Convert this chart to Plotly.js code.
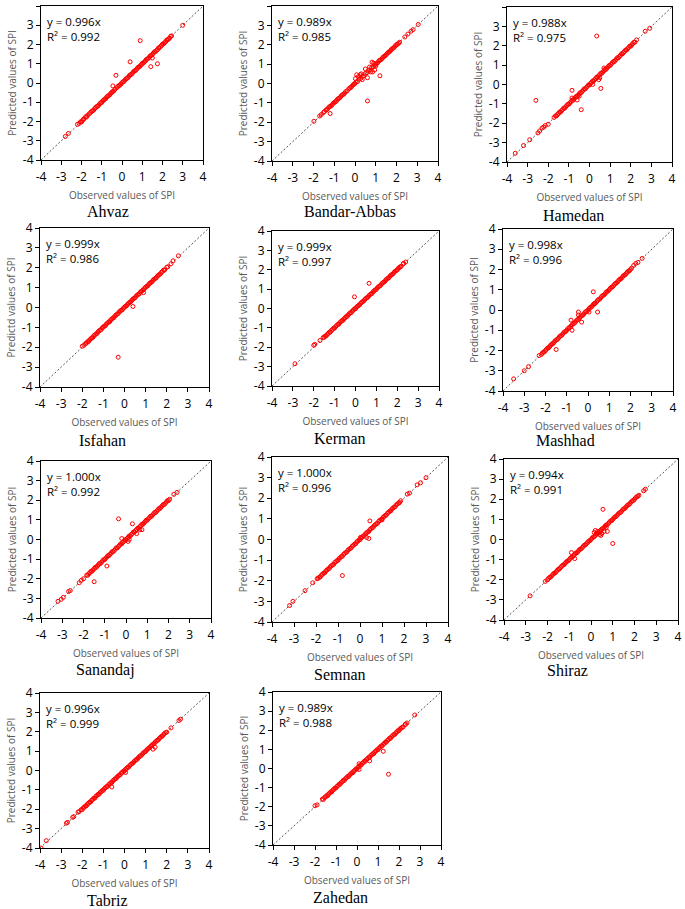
<!DOCTYPE html>
<html>
<head>
<meta charset="utf-8">
<script src="https://cdn.plot.ly/plotly-3.0.1.min.js"></script>
<style>html,body{margin:0;padding:0;background:#fff}#chart{width:685px;height:909px}</style>
</head>
<body>
<div id="chart"></div>
<script>
// ---------- DATA ----------
const CITIES = ["Ahvaz","Bandar-Abbas","Hamedan","Isfahan","Kerman","Mashhad","Sanandaj","Semnan","Shiraz","Tabriz","Zahedan"];
const EQUATIONS = ["y = 0.996x","y = 0.989x","y = 0.988x","y = 0.999x","y = 0.999x","y = 0.998x","y = 1.000x","y = 1.000x","y = 0.994x","y = 0.996x","y = 0.989x"];
const R2 = ["R² = 0.992","R² = 0.985","R² = 0.975","R² = 0.986","R² = 0.997","R² = 0.996","R² = 0.992","R² = 0.996","R² = 0.991","R² = 0.999","R² = 0.988"];
const Y_TITLES = ["Predicted values of SPI","Predicted values of SPI","Predicted values of SPI","Predictd values of SPI","Predicted values of SPI","Predicted values of SPI","Predicted values of SPI","Predicted values of SPI","Predicted values of SPI","Predicted values of SPI","Predicted values of SPI"];
const X_TITLE = "Observed values of SPI";
const TICK_VALS = [-4,-3,-2,-1,0,1,2,3,4];
const TICK_LABELS = ["-4","-3","-2","-1","0","1","2","3","4"];
const DIAG = [-4, 4];

const OBS_AHVAZ = [-2.8,-2.65,-2.2,-2.12,-2.05,-1.95,-1.88,-1.8,-1.7,-1.62,
 -1.55,-1.45,-1.35,-1.25,-1.15,-1.05,-0.95,-0.85,-0.75,-0.65,
 -0.55,-0.45,-0.35,-0.25,-0.15,-0.05,0.05,0.15,0.25,0.35,
 0.45,0.55,0.65,0.75,0.85,0.95,1.05,1.15,1.25,1.35,
 1.45,1.55,1.65,1.75,1.85,1.95,2.05,2.15,2.25,2.35,
 2.45,3.0,0.9,0.4,-0.3,-0.45,1.42,1.75,1.5,
 -2.0,-1.9,-1.75,-1.5,-1.4,-1.3,-1.2,-1.1,-1.0,-0.9,
 -0.8,-0.7,-0.6,-0.5,-0.4,-0.2,-0.1,0.0,0.1,0.2,
 0.3,0.4,0.5,0.6,0.7,0.8,0.9,1.0,1.1,1.2,
 1.3,1.4,1.5,1.6,1.7,1.8,1.9,2.0,2.1,2.2,
 2.3,2.4];
const PRED_AHVAZ = [-2.78,-2.62,-2.15,-2.1,-2.02,-1.95,-1.86,-1.76,-1.68,-1.6,
 -1.53,-1.44,-1.33,-1.22,-1.15,-1.03,-0.93,-0.84,-0.72,-0.65,
 -0.53,-0.44,-0.33,-0.24,-0.13,-0.05,0.06,0.16,0.24,0.36,
 0.44,0.56,0.64,0.76,0.84,0.95,1.03,1.14,1.24,1.34,
 1.43,1.55,1.63,1.73,1.83,1.95,2.03,2.14,2.24,2.33,
 2.45,3.0,2.2,1.1,0.4,-0.15,0.85,1.0,1.3,
 -2.02,-1.88,-1.77,-1.48,-1.41,-1.28,-1.21,-1.08,-1.01,-0.88,
 -0.81,-0.68,-0.61,-0.48,-0.41,-0.18,-0.11,0.02,0.09,0.22,
 0.29,0.42,0.49,0.62,0.69,0.82,0.89,1.02,1.09,1.22,
 1.29,1.42,1.49,1.62,1.69,1.82,1.89,2.02,2.09,2.22,
 2.29,2.42];

const OBS_BANDAR = [-1.98,-1.7,-1.62,-1.48,-1.4,-1.32,-1.25,-1.15,-1.05,-0.95,
 -0.85,-0.75,-0.65,-0.55,-0.45,-0.38,-0.3,-0.2,-0.1,0.0,
 0.05,0.12,0.2,0.28,0.35,0.42,0.5,0.58,0.65,0.72,
 0.8,0.88,0.95,1.05,1.15,1.25,1.35,1.45,1.55,1.65,
 1.75,1.85,1.95,2.05,2.15,2.4,2.55,2.7,2.8,3.05,
 0.6,-1.2,1.2,0.08,0.25,0.02,0.6,0.85,0.82,0.95,
 1.0,0.7,0.35,0.5,0.15,0.9,0.75,0.3,
 -1.52,-1.36,-1.2,-1.1,-1.0,-0.9,-0.8,-0.7,-0.6,-0.5,
 -0.25,-0.15,-0.05,1.0,1.1,1.2,1.3,1.4,1.5,1.6,
 1.7,1.8,1.9,2.0,2.1];
const PRED_BANDAR = [-1.95,-1.68,-1.6,-1.45,-1.38,-1.3,-1.22,-1.15,-1.02,-0.95,
 -0.82,-0.75,-0.62,-0.55,-0.42,-0.38,-0.28,-0.2,-0.08,0.0,
 0.08,0.1,0.22,0.26,0.38,0.4,0.52,0.56,0.68,0.7,
 0.82,0.86,0.97,1.03,1.17,1.23,1.35,1.43,1.55,1.63,
 1.75,1.83,1.95,2.03,2.13,2.4,2.55,2.7,2.78,3.05,
 -0.9,-1.55,0.4,0.45,0.45,0.25,0.3,0.6,1.1,0.7,
 0.9,0.85,0.2,0.75,0.35,1.05,0.6,0.5,
 -1.5,-1.35,-1.18,-1.1,-0.98,-0.9,-0.78,-0.7,-0.58,-0.5,
 -0.23,-0.15,-0.03,1.0,1.08,1.2,1.28,1.4,1.48,1.6,
 1.68,1.8,1.88,2.0,2.08];

const OBS_HAMEDAN = [-3.6,-3.2,-2.9,-2.5,-2.42,-2.3,-2.22,-2.15,-2.0,-1.72,
 -1.65,-1.55,-1.45,-1.35,-1.25,-1.15,-1.05,-0.95,-0.85,-0.75,
 -0.65,-0.55,-0.45,-0.35,-0.25,-0.15,-0.05,0.05,0.15,0.25,
 0.35,0.45,0.55,0.65,0.75,0.85,0.95,1.05,1.15,1.25,
 1.35,1.45,1.55,1.65,1.75,1.85,1.95,2.05,2.15,2.28,
 2.7,2.92,-2.6,-0.85,-0.4,0.35,0.55,-0.85,0.45,0.15,
 -0.6,0.7,-0.5,0.5,
 -1.6,-1.5,-1.4,-1.3,-1.2,-1.1,-1.0,-0.9,-0.8,-0.7,
 -0.6,-0.5,-0.4,-0.3,-0.2,-0.1,0.0,0.1,0.2,0.3,
 0.4,0.5,0.6,0.7,0.8,0.9,1.0,1.1,1.2,1.3,
 1.4,1.5,1.6,1.7,1.8,1.9,2.0,2.1,2.2];
const PRED_HAMEDAN = [-3.55,-3.15,-2.85,-2.5,-2.4,-2.25,-2.2,-2.12,-2.05,-1.7,
 -1.62,-1.55,-1.42,-1.35,-1.22,-1.15,-1.02,-0.95,-0.82,-0.75,
 -0.62,-0.55,-0.42,-0.35,-0.22,-0.15,-0.02,0.05,0.18,0.25,
 0.38,0.45,0.58,0.65,0.78,0.85,0.98,1.05,1.18,1.25,
 1.38,1.45,1.58,1.65,1.78,1.85,1.98,2.05,2.18,2.3,
 2.75,2.9,-0.82,-0.3,-1.3,2.5,-0.2,-0.7,0.25,0.0,
 -0.8,0.85,-0.6,0.35,
 -1.62,-1.49,-1.42,-1.29,-1.22,-1.09,-1.02,-0.89,-0.82,-0.69,
 -0.62,-0.49,-0.42,-0.29,-0.22,-0.09,-0.02,0.11,0.18,0.31,
 0.38,0.51,0.58,0.71,0.78,0.91,0.98,1.11,1.18,1.31,
 1.38,1.51,1.58,1.71,1.78,1.91,1.98,2.11,2.18];

const OBS_ISFAHAN = [-2.0,-1.92,-1.85,-1.75,-1.65,-1.55,-1.45,-1.35,-1.25,-1.15,
 -1.05,-0.95,-0.85,-0.75,-0.65,-0.55,-0.45,-0.35,-0.25,-0.15,
 -0.05,0.05,0.15,0.25,0.35,0.45,0.55,0.65,0.75,0.85,
 0.95,1.05,1.15,1.25,1.35,1.45,1.55,1.65,1.75,1.85,
 2.05,2.2,2.3,2.55,-0.3,0.4,0.9,
 -1.8,-1.7,-1.6,-1.5,-1.4,-1.3,-1.2,-1.1,-1.0,-0.9,
 -0.8,-0.7,-0.6,-0.5,-0.4,-0.3,-0.2,-0.1,0.0,0.1,
 0.2,0.3,0.4,0.5,0.6,0.7,0.8,0.9,1.0,1.1,
 1.2,1.3,1.4,1.5,1.6,1.7,1.8,1.9,2.0];
const PRED_ISFAHAN = [-1.95,-1.9,-1.82,-1.72,-1.63,-1.53,-1.42,-1.33,-1.22,-1.13,
 -1.02,-0.93,-0.82,-0.73,-0.62,-0.53,-0.42,-0.33,-0.22,-0.13,
 -0.03,0.06,0.17,0.26,0.37,0.46,0.57,0.66,0.77,0.86,
 0.97,1.06,1.17,1.26,1.37,1.46,1.57,1.66,1.77,1.88,
 2.05,2.2,2.35,2.6,-2.5,0.05,0.75,
 -1.79,-1.71,-1.58,-1.51,-1.38,-1.31,-1.18,-1.11,-0.98,-0.91,
 -0.78,-0.71,-0.58,-0.51,-0.38,-0.31,-0.18,-0.11,0.02,0.09,
 0.22,0.29,0.42,0.49,0.62,0.69,0.82,0.89,1.02,1.09,
 1.22,1.29,1.42,1.49,1.62,1.69,1.82,1.89,2.02];

const OBS_KERMAN = [-2.9,-2.0,-1.95,-1.7,-1.55,-1.45,-1.35,-1.25,-1.15,-1.05,
 -0.95,-0.85,-0.75,-0.65,-0.55,-0.45,-0.35,-0.25,-0.15,-0.05,
 0.05,0.15,0.25,0.35,0.45,0.55,0.65,0.75,0.85,0.95,
 1.05,1.15,1.25,1.35,1.45,1.55,1.65,1.75,1.85,1.95,
 2.05,2.15,2.3,2.4,0.65,-0.05,
 -1.5,-1.4,-1.3,-1.2,-1.1,-1.0,-0.9,-0.8,-0.7,-0.6,
 -0.5,-0.4,-0.3,-0.2,-0.1,0.0,0.1,0.2,0.3,0.4,
 0.5,0.6,0.7,0.8,0.9,1.0,1.1,1.2,1.3,1.4,
 1.5,1.6,1.7,1.8,1.9,2.0,2.1,2.2,2.3];
const PRED_KERMAN = [-2.85,-1.9,-1.85,-1.65,-1.5,-1.42,-1.33,-1.22,-1.13,-1.02,
 -0.93,-0.82,-0.73,-0.62,-0.53,-0.42,-0.33,-0.22,-0.13,-0.02,
 0.07,0.16,0.27,0.36,0.47,0.56,0.67,0.76,0.87,0.96,
 1.07,1.16,1.27,1.36,1.47,1.56,1.67,1.76,1.87,1.96,
 2.07,2.15,2.32,2.4,1.3,0.6,
 -1.48,-1.41,-1.28,-1.21,-1.08,-1.01,-0.88,-0.81,-0.68,-0.61,
 -0.48,-0.41,-0.28,-0.21,-0.08,-0.01,0.12,0.19,0.32,0.39,
 0.52,0.59,0.72,0.79,0.92,0.99,1.12,1.19,1.32,1.39,
 1.52,1.59,1.72,1.79,1.92,1.99,2.12,2.19,2.32];

const OBS_MASHHAD = [-3.5,-3.0,-2.8,-2.3,-2.2,-2.1,-2.0,-1.9,-1.8,-1.7,
 -1.6,-1.5,-1.4,-1.3,-1.2,-1.1,-1.0,-0.9,-0.8,-0.7,
 -0.6,-0.5,-0.4,-0.3,-0.2,-0.1,0.0,0.1,0.2,0.3,
 0.4,0.5,0.6,0.7,0.8,0.9,1.0,1.1,1.2,1.3,
 1.4,1.5,1.6,1.7,1.8,1.9,2.0,2.15,2.25,2.35,
 2.55,0.25,-1.5,-0.45,0.45,-0.3,-0.8,-0.75,0.05,0.3,
 -0.45,
 -2.15,-2.05,-1.95,-1.85,-1.75,-1.65,-1.55,-1.45,-1.35,-1.25,
 -1.15,-1.05,-0.95,-0.85,-0.75,-0.65,-0.55,-0.45,-0.35,-0.25,
 -0.15,-0.05,0.05,0.15,0.25,0.35,0.45,0.55,0.65,0.75,
 0.85,0.95,1.05,1.15,1.25,1.35,1.45,1.55,1.65,1.75,
 1.85,1.95,2.05];
const PRED_MASHHAD = [-3.4,-3.0,-2.8,-2.25,-2.2,-2.08,-2.0,-1.88,-1.8,-1.68,
 -1.6,-1.48,-1.4,-1.28,-1.2,-1.08,-1.0,-0.88,-0.8,-0.68,
 -0.6,-0.48,-0.4,-0.28,-0.2,-0.08,0.0,0.12,0.2,0.32,
 0.4,0.52,0.6,0.72,0.8,0.92,1.0,1.12,1.2,1.32,
 1.4,1.52,1.6,1.72,1.8,1.92,2.0,2.2,2.3,2.35,
 2.55,0.9,-1.95,-0.1,-0.1,-0.6,-0.5,-1.0,-0.1,0.3,
 -0.25,
 -2.13,-2.06,-1.93,-1.86,-1.73,-1.66,-1.53,-1.46,-1.33,-1.26,
 -1.13,-1.06,-0.93,-0.86,-0.73,-0.66,-0.53,-0.46,-0.33,-0.26,
 -0.13,-0.06,0.07,0.14,0.27,0.34,0.47,0.54,0.67,0.74,
 0.87,0.94,1.07,1.14,1.27,1.34,1.47,1.54,1.67,1.74,
 1.87,1.94,2.07];

const OBS_SANANDAJ = [-3.2,-3.05,-2.95,-2.7,-2.62,-2.2,-2.1,-2.0,-1.85,-1.75,
 -1.65,-1.55,-1.45,-1.35,-1.25,-1.15,-1.05,-0.95,-0.85,-0.75,
 -0.65,-0.55,-0.45,-0.35,-0.25,-0.15,-0.05,0.05,0.15,0.25,
 0.35,0.45,0.55,0.65,0.75,0.85,0.95,1.05,1.15,1.25,
 1.35,1.45,1.55,1.65,1.75,1.85,1.95,2.05,2.25,2.4,
 -0.35,-1.5,-0.9,0.3,-0.2,0.1,0.5,0.65,0.75,0.15,
 -1.8,-1.7,-1.6,-1.5,-1.4,-1.3,-1.2,-1.1,-1.0,-0.9,
 -0.8,-0.7,-0.6,-0.5,-0.4,-0.3,-0.2,-0.1,0.0,0.1,
 0.2,0.3,0.4,0.5,0.6,0.7,0.8,0.9,1.0,1.1,
 1.2,1.3,1.4,1.5,1.6,1.7,1.8,1.9,2.0];
const PRED_SANANDAJ = [-3.15,-3.05,-2.95,-2.65,-2.6,-2.2,-2.08,-2.0,-1.82,-1.75,
 -1.62,-1.55,-1.42,-1.35,-1.22,-1.15,-1.02,-0.95,-0.82,-0.75,
 -0.62,-0.55,-0.42,-0.35,-0.22,-0.15,-0.02,0.05,0.18,0.25,
 0.38,0.45,0.58,0.65,0.78,0.85,0.98,1.05,1.18,1.25,
 1.38,1.45,1.58,1.65,1.78,1.85,1.98,2.05,2.3,2.4,
 1.05,-2.15,-1.35,0.8,0.05,-0.1,0.3,0.5,0.5,0.0,
 -1.82,-1.69,-1.62,-1.49,-1.42,-1.29,-1.22,-1.09,-1.02,-0.89,
 -0.82,-0.69,-0.62,-0.49,-0.42,-0.29,-0.22,-0.09,-0.02,0.11,
 0.18,0.31,0.38,0.51,0.58,0.71,0.78,0.91,0.98,1.11,
 1.18,1.31,1.38,1.51,1.58,1.71,1.78,1.91,1.98];

const OBS_SEMNAN = [-3.2,-3.05,-2.5,-2.15,-1.95,-1.85,-1.75,-1.65,-1.55,-1.45,
 -1.35,-1.25,-1.15,-1.05,-0.95,-0.85,-0.75,-0.65,-0.55,-0.45,
 -0.35,-0.25,-0.15,-0.05,0.05,0.15,0.25,0.35,0.45,0.55,
 0.65,0.75,0.85,0.95,1.05,1.15,1.25,1.35,1.45,1.55,
 1.65,1.75,1.85,2.15,2.25,2.6,2.75,3.0,-0.8,0.45,
 0.4,0.3,0.02,1.0,
 -1.9,-1.8,-1.7,-1.6,-1.5,-1.4,-1.3,-1.2,-1.1,-1.0,
 -0.9,-0.8,-0.7,-0.6,-0.5,-0.4,-0.3,-0.2,-0.1,0.0,
 0.1,0.2,0.3,0.4,0.5,0.6,0.7,0.8,0.9,1.0,
 1.1,1.2,1.3,1.4,1.5,1.6,1.7,1.8];
const PRED_SEMNAN = [-3.2,-3.0,-2.48,-2.1,-1.9,-1.83,-1.72,-1.63,-1.52,-1.43,
 -1.32,-1.23,-1.12,-1.03,-0.92,-0.83,-0.72,-0.63,-0.52,-0.43,
 -0.32,-0.23,-0.12,-0.03,0.08,0.17,0.28,0.37,0.48,0.57,
 0.68,0.77,0.88,0.97,1.08,1.17,1.28,1.37,1.48,1.57,
 1.68,1.77,1.88,2.2,2.25,2.65,2.75,3.0,-1.75,0.9,
 0.05,0.1,0.1,0.95,
 -1.88,-1.81,-1.68,-1.61,-1.48,-1.41,-1.28,-1.21,-1.08,-1.01,
 -0.88,-0.81,-0.68,-0.61,-0.48,-0.41,-0.28,-0.21,-0.08,-0.01,
 0.12,0.19,0.32,0.39,0.52,0.59,0.72,0.79,0.92,0.99,
 1.12,1.19,1.32,1.39,1.52,1.59,1.72,1.79];

const OBS_SHIRAZ = [-2.8,-2.1,-2.0,-1.9,-1.8,-1.7,-1.6,-1.5,-1.4,-1.3,
 -1.2,-1.1,-1.0,-0.9,-0.8,-0.7,-0.6,-0.5,-0.4,-0.3,
 -0.2,-0.1,0.0,0.1,0.2,0.3,0.4,0.5,0.6,0.7,
 0.8,0.9,1.0,1.1,1.2,1.3,1.4,1.5,1.6,1.7,
 1.8,1.9,2.0,2.1,2.2,2.42,2.5,0.55,1.0,0.2,
 0.15,0.3,0.4,0.45,0.5,0.75,-0.75,-0.9,0.6,0.7,
 0.25,
 -1.95,-1.85,-1.75,-1.65,-1.55,-1.45,-1.35,-1.25,-1.15,-1.05,
 -0.95,-0.85,-0.75,-0.65,-0.55,-0.45,-0.35,-0.25,-0.15,-0.05,
 0.05,0.15,0.25,0.35,0.45,0.55,0.65,0.75,0.85,0.95,
 1.05,1.15,1.25,1.35,1.45,1.55,1.65,1.75,1.85,1.95,
 2.05,2.15];
const PRED_SHIRAZ = [-2.8,-2.08,-2.0,-1.88,-1.8,-1.68,-1.6,-1.48,-1.4,-1.28,
 -1.2,-1.08,-1.0,-0.88,-0.8,-0.68,-0.6,-0.48,-0.4,-0.28,
 -0.2,-0.08,0.0,0.12,0.2,0.32,0.4,0.52,0.6,0.72,
 0.8,0.92,1.0,1.12,1.2,1.32,1.4,1.52,1.6,1.72,
 1.8,1.92,2.0,2.12,2.2,2.42,2.5,1.5,-0.2,0.45,
 0.35,0.4,0.25,0.2,0.3,0.4,-0.95,-0.65,0.4,0.6,
 0.3,
 -1.93,-1.86,-1.73,-1.66,-1.53,-1.46,-1.33,-1.26,-1.13,-1.06,
 -0.93,-0.86,-0.73,-0.66,-0.53,-0.46,-0.33,-0.26,-0.13,-0.06,
 0.07,0.14,0.27,0.34,0.47,0.54,0.67,0.74,0.87,0.94,
 1.07,1.14,1.27,1.34,1.47,1.54,1.67,1.74,1.87,1.94,
 2.07,2.14];

const OBS_TABRIZ = [-3.95,-3.7,-2.75,-2.7,-2.45,-2.4,-2.2,-2.15,-2.05,-1.95,
 -1.85,-1.75,-1.65,-1.55,-1.45,-1.35,-1.25,-1.15,-1.05,-0.95,
 -0.85,-0.75,-0.65,-0.55,-0.45,-0.35,-0.25,-0.15,-0.05,0.05,
 0.15,0.25,0.35,0.45,0.55,0.65,0.75,0.85,0.95,1.05,
 1.15,1.25,1.35,1.45,1.55,1.65,1.75,1.85,1.95,2.2,
 2.58,2.65,-0.6,1.35,1.45,0.05,
 -2.0,-1.9,-1.8,-1.7,-1.6,-1.5,-1.4,-1.3,-1.2,-1.1,
 -1.0,-0.9,-0.8,-0.7,-0.6,-0.5,-0.4,-0.3,-0.2,-0.1,
 0.0,0.1,0.2,0.3,0.4,0.5,0.6,0.7,0.8,0.9,
 1.0,1.1,1.2,1.3,1.4,1.5,1.6,1.7,1.8,1.9,
 2.0];
const PRED_TABRIZ = [-4.0,-3.62,-2.72,-2.68,-2.42,-2.38,-2.15,-2.12,-2.02,-1.93,
 -1.83,-1.73,-1.63,-1.53,-1.43,-1.33,-1.23,-1.13,-1.03,-0.93,
 -0.83,-0.73,-0.63,-0.53,-0.43,-0.33,-0.23,-0.13,-0.03,0.06,
 0.16,0.26,0.36,0.46,0.56,0.66,0.76,0.86,0.96,1.06,
 1.16,1.26,1.36,1.46,1.56,1.66,1.76,1.86,1.96,2.2,
 2.58,2.65,-0.85,1.1,1.2,-0.1,
 -2.02,-1.89,-1.82,-1.69,-1.62,-1.49,-1.42,-1.29,-1.22,-1.09,
 -1.02,-0.89,-0.82,-0.69,-0.62,-0.49,-0.42,-0.29,-0.22,-0.09,
 -0.02,0.11,0.18,0.31,0.38,0.51,0.58,0.71,0.78,0.91,
 0.98,1.11,1.18,1.31,1.38,1.51,1.58,1.71,1.78,1.91,
 1.98];

const OBS_ZAHEDAN = [-2.0,-1.9,-1.65,-1.55,-1.45,-1.35,-1.25,-1.15,-1.05,-0.95,
 -0.85,-0.75,-0.65,-0.55,-0.45,-0.35,-0.25,-0.15,-0.05,0.05,
 0.15,0.25,0.35,0.45,0.55,0.65,0.75,0.85,0.95,1.05,
 1.15,1.25,1.35,1.45,1.55,1.65,1.75,1.85,1.95,2.05,
 2.15,2.3,2.38,2.75,1.5,1.25,0.6,0.1,0.1,
 -1.6,-1.5,-1.4,-1.3,-1.2,-1.1,-1.0,-0.9,-0.8,-0.7,
 -0.6,-0.5,-0.4,-0.3,-0.2,-0.1,0.0,0.1,0.2,0.3,
 0.4,0.5,0.6,0.7,0.8,0.9,1.0,1.1,1.2,1.3,
 1.4,1.5,1.6,1.7,1.8,1.9,2.0,2.1,2.2,2.3];
const PRED_ZAHEDAN = [-1.95,-1.9,-1.6,-1.52,-1.42,-1.33,-1.22,-1.13,-1.02,-0.93,
 -0.82,-0.73,-0.62,-0.53,-0.42,-0.33,-0.22,-0.13,-0.02,0.07,
 0.18,0.27,0.38,0.47,0.58,0.67,0.78,0.87,0.98,1.07,
 1.18,1.27,1.38,1.47,1.58,1.67,1.78,1.87,1.98,2.07,
 2.15,2.3,2.38,2.8,-0.3,0.9,0.4,0.25,-0.05,
 -1.62,-1.49,-1.42,-1.29,-1.22,-1.09,-1.02,-0.89,-0.82,-0.69,
 -0.62,-0.49,-0.42,-0.29,-0.22,-0.09,-0.02,0.11,0.18,0.31,
 0.38,0.51,0.58,0.71,0.78,0.91,0.98,1.11,1.18,1.31,
 1.38,1.51,1.58,1.71,1.78,1.91,1.98,2.11,2.18,2.31];

const OBS = [OBS_AHVAZ,OBS_BANDAR,OBS_HAMEDAN,OBS_ISFAHAN,OBS_KERMAN,OBS_MASHHAD,OBS_SANANDAJ,OBS_SEMNAN,OBS_SHIRAZ,OBS_TABRIZ,OBS_ZAHEDAN];
const PRED = [PRED_AHVAZ,PRED_BANDAR,PRED_HAMEDAN,PRED_ISFAHAN,PRED_KERMAN,PRED_MASHHAD,PRED_SANANDAJ,PRED_SEMNAN,PRED_SHIRAZ,PRED_TABRIZ,PRED_ZAHEDAN];

// ---------- LAYOUT (pixel boxes: left, right, top, bottom; city label centre x, y) ----------
const W = 685, H = 909;
const BOXES = [
  [41,203,6,160],[272,438,6,161],[507,672,7,162],
  [40,209,228,387],[272,439,231,386],[503,673,229,391],
  [41,211,461,618],[272,448,457,622],[504,678,459,620],
  [40,209,693,848],[273,441,692,845]
];
const LABEL_POS = [
  [108,212],[350,212],[573,215],
  [102,440],[340,438],[565,440],
  [105,670],[340,674],[567,670],
  [107,900],[340,897]
];

const traces = [];
const layout = {
  width: W, height: H,
  margin: {l:0, r:0, t:0, b:0},
  paper_bgcolor: '#fff', plot_bgcolor: '#fff',
  showlegend: false,
  annotations: []
};
const tickFont = {family: 'Open Sans, Liberation Sans, sans-serif', size: 12, color: '#000'};
const titleFont = {family: 'Open Sans, Liberation Sans, sans-serif', size: 10, color: '#595959'};

CITIES.forEach((city, i) => {
  const n = i + 1;
  const sx = n === 1 ? '' : String(n);
  const [l, r, t, b] = BOXES[i];
  const xa = 'x' + sx, ya = 'y' + sx;
  traces.push({
    x: DIAG, y: DIAG, xaxis: xa, yaxis: ya, mode: 'lines', hoverinfo: 'skip',
    line: {color: '#555', width: 1, dash: '2px,2px'}
  });
  traces.push({
    x: OBS[i], y: PRED[i], xaxis: xa, yaxis: ya, mode: 'markers', name: city,
    marker: {symbol: 'circle-open', size: 4, color: '#ff0000', line: {width: 1, color: '#ff0000'}}
  });
  const common = {
    range: [-4, 4], tickvals: TICK_VALS, ticktext: TICK_LABELS,
    showgrid: false, zeroline: false, showline: true, mirror: true,
    linecolor: '#000', linewidth: 1, ticks: 'outside', ticklen: 4, tickcolor: '#000',
    tickfont: tickFont, fixedrange: true
  };
  layout['xaxis' + sx] = Object.assign({}, common, {
    domain: [l / W, r / W], anchor: ya, ticklabelstandoff: 2,
    title: {text: X_TITLE, font: titleFont, standoff: 7}
  });
  layout['yaxis' + sx] = Object.assign({}, common, {
    domain: [1 - b / H, 1 - t / H], anchor: xa,
    title: {text: Y_TITLES[i], font: titleFont, standoff: 4}
  });
  layout.annotations.push({
    xref: 'paper', yref: 'paper', x: (l + 4) / W, y: 1 - (t + 6) / H,
    xanchor: 'left', yanchor: 'top', align: 'left', showarrow: false,
    text: EQUATIONS[i] + '<br>' + R2[i],
    font: {family: 'Open Sans, Liberation Sans, sans-serif', size: 11.5, color: '#000'}
  });
  layout.annotations.push({
    xref: 'paper', yref: 'paper', x: LABEL_POS[i][0] / W, y: 1 - LABEL_POS[i][1] / H,
    xanchor: 'center', yanchor: 'middle', showarrow: false,
    text: city,
    font: {family: 'Liberation Serif, Times New Roman, serif', size: 16, color: '#000'}
  });
});

Plotly.newPlot('chart', traces, layout, {displayModeBar: false, staticPlot: true});
</script>
</body>
</html>
